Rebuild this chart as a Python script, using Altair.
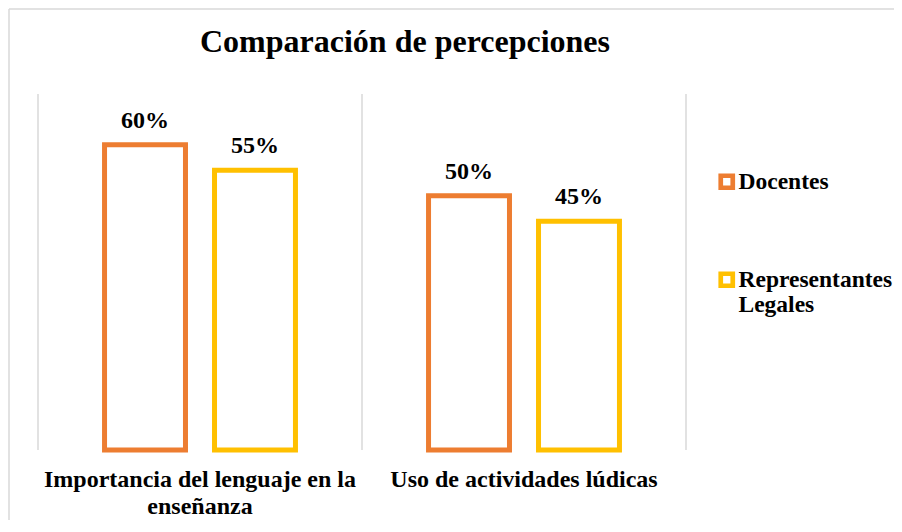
import altair as alt
import pandas as pd

categories = ["Importancia del lenguaje en la enseñanza", "Uso de actividades lúdicas"]
series = ["Docentes", "Representantes Legales"]
docentes = [0.60, 0.50]
representantes = [0.55, 0.45]
colors = ["#ED7D31", "#FFC000"]

rows = []
for i, c in enumerate(categories):
    rows.append({"categoria": c, "grupo": series[0], "valor": docentes[i]})
    rows.append({"categoria": c, "grupo": series[1], "valor": representantes[i]})
df = pd.DataFrame(rows)

FONT = "Liberation Serif"
W, H = 648, 356

x_axis = alt.Axis(
    title=None, ticks=False, domain=False, grid=False,
    labelAngle=0, labelAlign="center", labelBaseline="top",
    labelFont=FONT, labelFontSize=24, labelFontWeight="bold",
    labelColor="black", labelPadding=17, labelLineHeight=27, labelLimit=0,
    labelExpr="datum.value == 'Importancia del lenguaje en la enseñanza' ? ['Importancia del lenguaje en la', 'enseñanza'] : datum.label",
)
x_scale = alt.Scale(paddingInner=0, paddingOuter=0)

xoff_enc = alt.XOffset("grupo:N", sort=series,
                       scale=alt.Scale(paddingInner=0.264, paddingOuter=0.605))
y_enc = alt.Y("valor:Q", scale=alt.Scale(domain=[0, 0.7], nice=False, zero=True), axis=None)

base = alt.Chart(df)

grid0 = alt.Chart(pd.DataFrame({"categoria": categories})).mark_rule(
    color="#d9d9d9", strokeWidth=1.5
).encode(
    x=alt.X("categoria:N", sort=categories, bandPosition=0, scale=x_scale, axis=x_axis),
    y=alt.value(0), y2=alt.value(H),
)
grid1 = alt.Chart(pd.DataFrame({"categoria": categories[-1:]})).mark_rule(
    color="#d9d9d9", strokeWidth=1.5
).encode(
    x=alt.X("categoria:N", sort=categories, bandPosition=1, scale=x_scale, axis=x_axis),
    y=alt.value(0), y2=alt.value(H),
)

bars = base.mark_bar(fill="white", strokeWidth=5).encode(
    x=alt.X("categoria:N", sort=categories, scale=x_scale, axis=x_axis),
    xOffset=xoff_enc,
    y=y_enc,
    stroke=alt.Stroke(
        "grupo:N",
        sort=series,
        scale=alt.Scale(domain=series, range=colors),
        legend=alt.Legend(
            title=None, orient="none", legendX=677, legendY=76,
            symbolType="square", symbolSize=144, symbolStrokeWidth=4.7,
            symbolFillColor="white", labelFont=FONT, labelFontSize=23.5,
            labelFontWeight="bold", labelColor="black", labelBaseline="middle",
            labelOffset=0, labelLimit=0, rowPadding=66,
            labelExpr="split(datum.label, ' ')",
        ),
    ),
)

labels = base.mark_text(
    font=FONT, fontSize=24, fontWeight="bold", color="black", dy=-17,
    baseline="alphabetic",
).encode(
    x=alt.X("categoria:N", sort=categories, scale=x_scale, axis=x_axis),
    xOffset=xoff_enc,
    y=y_enc,
    text=alt.Text("valor:Q", format=".0%"),
)

border_left = alt.Chart(alt.Data(values=[{}])).mark_rule(color="#d9d9d9", strokeWidth=1.5).encode(
    x=alt.value(-29), y=alt.value(-85), y2=alt.value(440)
)
border_top = alt.Chart(alt.Data(values=[{}])).mark_rule(color="#d9d9d9", strokeWidth=1.5).encode(
    x=alt.value(-29), x2=alt.value(870), y=alt.value(-85)
)

chart = alt.layer(border_left, border_top, grid0, grid1, bars, labels).properties(
    width=W, height=H,
    background="white",
    autosize=alt.AutoSizeParams(type="none"),
    padding={"left": 30, "top": 86, "right": 208, "bottom": 70},
    title=alt.TitleParams(
        "Comparación de percepciones", font=FONT, fontSize=32, fontWeight="bold",
        color="black", anchor="middle", dx=43, dy=76, baseline="alphabetic", offset=0,
    ),
).configure_view(stroke="transparent", strokeWidth=0)

chart.save("out.html", embed_options={"renderer": "svg", "actions": False})
